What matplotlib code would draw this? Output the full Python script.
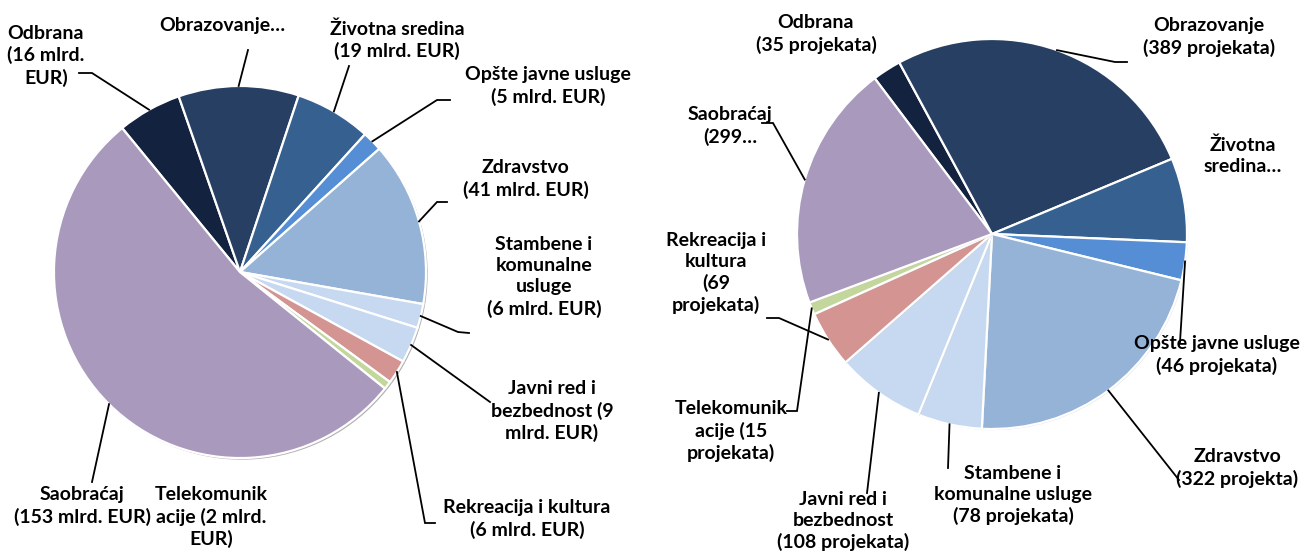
import matplotlib
matplotlib.use("Agg")
import matplotlib.pyplot as plt
import matplotlib.patheffects as pe
import numpy as np

# sectors (same order in both pies, clockwise)
sectors = ["Odbrana", "Obrazovanje", "Životna sredina", "Opšte javne usluge", "Zdravstvo",
           "Stambene i komunalne usluge", "Javni red i bezbednost", "Rekreacija i kultura",
           "Telekomunikacije", "Saobraćaj"]

# left pie: investments in mlrd. EUR (Obrazovanje is estimated, its label is cut off)
mlrd_eur = [16, 30, 19, 5, 41, 6, 9, 6, 2, 153]
# right pie: number of projects (Životna sredina is estimated, label cut off)
projekata = [35, 389, 102, 46, 322, 78, 108, 69, 15, 299]

labels_left = ["Odbrana\n(16 mlrd.\nEUR)", "Obrazovanje…", "Životna sredina\n(19 mlrd. EUR)",
               "Opšte javne usluge\n(5 mlrd. EUR)", "Zdravstvo\n(41 mlrd. EUR)",
               "Stambene i\nkomunalne\nusluge\n(6 mlrd. EUR)", "Javni red i\nbezbednost (9\nmlrd. EUR)",
               "Rekreacija i kultura\n(6 mlrd. EUR)", "Telekomunik\nacije (2 mlrd.\nEUR)",
               "Saobraćaj\n(153 mlrd. EUR)"]
labels_right = ["Odbrana\n(35 projekata)", "Obrazovanje\n(389 projekata)", "Životna\nsredina…",
                "Opšte javne usluge\n(46 projekata)", "Zdravstvo\n(322 projekta)",
                "Stambene i\nkomunalne usluge\n(78 projekata)", "Javni red i\nbezbednost\n(108 projekata)",
                "Rekreacija i\nkultura\n(69\nprojekata)", "Telekomunik\nacije (15\nprojekata)",
                "Saobraćaj\n(299…"]

colors = ["#13233f", "#273f62", "#36608f", "#558ed5", "#95b3d7",
          "#c6d9f1", "#c6d9f1", "#d49592", "#c3d69b", "#a899bd"]

W, H = 1305, 555

# label layout in pixels (y from top): text centre, elbow of leader, end of short horizontal tick
layout_left = [((46, 56), (92, 73), (79, 73)),
               ((222, 26), (248, 50), None),
               ((397, 40), (349, 66), None),
               ((548, 86), (437, 100), (450, 100)),
               ((526, 179), (437, 202), (447, 202)),
               ((544, 277), (458, 332), (469, 333)),
               ((552, 411), (490, 402), None),
               ((527, 519), (425, 523), (435, 523)),
               ((211, 517), None, None),
               ((82, 506), (92, 482), None)]
layout_right = [((816, 34), None, None),
                ((1209, 37), (1115, 62), (1127, 62)),
                ((1243, 156), None, None),
                ((1217, 355), (1180, 342), None),
                ((1237, 468), (1179, 480), None),
                ((1013, 495), (948, 468), None),
                ((843, 521), (867, 493), None),
                ((716, 273), (779, 318), (767, 318)),
                ((731, 431), (797, 411), (787, 411)),
                ((730, 126), (773, 123), (762, 123))]

fig = plt.figure(figsize=(W / 100, H / 100), dpi=100)
ax = fig.add_axes([0, 0, 1, 1])

font = dict(family="Lato", weight="bold", size=14)


def draw_pie(values, center, radius, explode, start, labels, layout, shadow):
    cx, cy = center
    wedges, _ = ax.pie(values, colors=colors, startangle=start, counterclock=False,
                       center=(cx, H - cy), radius=radius, explode=explode,
                       wedgeprops=dict(edgecolor="white", linewidth=1.6), frame=True)
    for w in wedges:
        if shadow:
            w.set_path_effects([pe.SimplePatchShadow(offset=(1.2, -1.2), shadow_rgbFace="#7f7f7f", alpha=0.6),
                                pe.Normal()])
        else:
            w.set_path_effects([pe.SimplePatchShadow(offset=(0.8, -0.8), shadow_rgbFace="#bfbfbf", alpha=0.5),
                                pe.Normal()])
    for w, lab, (txt, elbow, tick) in zip(wedges, labels, layout):
        ax.text(txt[0], H - txt[1], lab, ha="center", va="center", multialignment="center",
                linespacing=1.28, color="black", zorder=5, **font)
        if elbow is None:
            continue
        mid = np.deg2rad((w.theta1 + w.theta2) / 2)
        wx, wy = w.center
        ax_pt = (wx + w.r * np.cos(mid), wy + w.r * np.sin(mid))
        xs = [ax_pt[0], elbow[0]]
        ys = [ax_pt[1], H - elbow[1]]
        if tick is not None:
            xs.append(tick[0])
            ys.append(H - tick[1])
        ax.plot(xs, ys, color="black", lw=1.3, solid_joinstyle="miter", zorder=4)


explode_left = [0.025] * 9 + [0.06]
draw_pie(mlrd_eur, (240, 272), 186, explode_left, 129.3, labels_left, layout_left, True)
draw_pie(projekata, (992, 234), 195, None, 127, labels_right, layout_right, False)

ax.set_xlim(0, W)
ax.set_ylim(0, H)
ax.set_aspect("auto")
ax.axis("off")

fig.savefig("out.png", dpi=100, facecolor="white")
